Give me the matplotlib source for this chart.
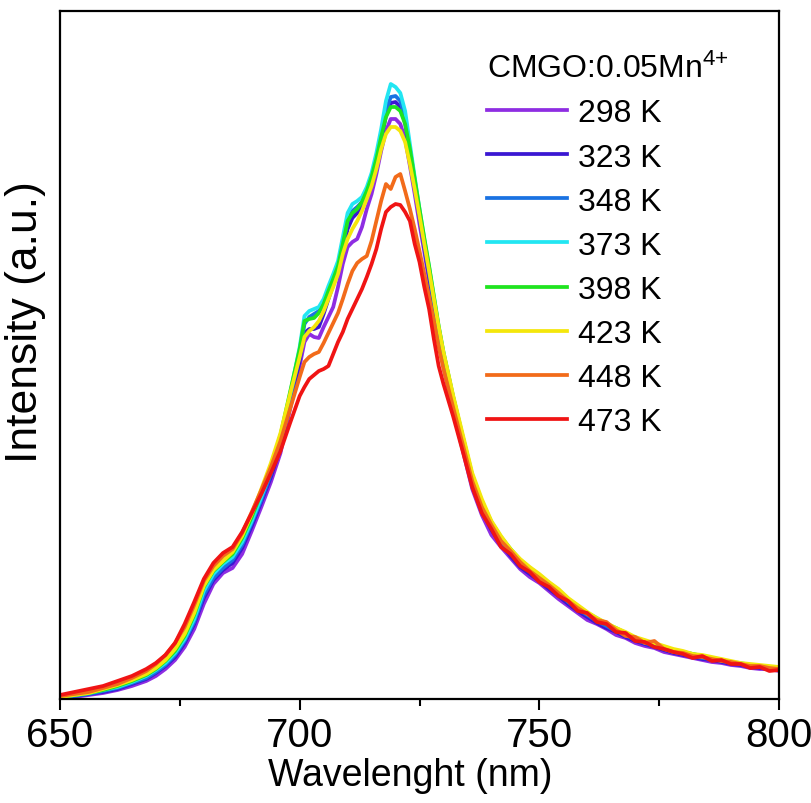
import numpy as np
import matplotlib
matplotlib.use('Agg')
import matplotlib.pyplot as plt
from matplotlib.ticker import MultipleLocator

# Emission spectra of CMGO:0.05Mn4+ at different temperatures
wavelength = [650, 653, 656, 659, 662, 665, 668, 670, 672, 674, 676, 678, 680, 682, 684, 686,
              688, 690, 692, 694, 696, 698, 700, 701, 702, 703, 704, 705, 706, 707, 708, 709,
              710, 711, 712, 713, 714, 715, 716, 717, 718, 719, 720, 721, 722, 723, 724, 725,
              726, 727, 728, 729, 730, 732, 734, 736, 738, 740, 742, 744, 746, 748, 750, 752,
              754, 756, 758, 760, 762, 764, 766, 768, 770, 772, 774, 776, 778, 780, 782, 784,
              786, 788, 790, 792, 794, 796, 798, 800]

i_298 = [1, 2, 4, 6, 9, 13, 18, 23, 30, 39, 52, 70, 95, 115, 126, 131,
         145, 168, 192, 217, 246, 290, 333, 357, 365, 362, 361, 372, 382, 392, 412, 435,
         452, 457, 460, 472, 490, 505, 525, 548, 568, 580, 580, 575, 560, 533, 505, 475,
         447, 418, 389, 360, 333, 288, 249, 210, 184, 164, 152, 141, 130, 122, 116, 108,
         100, 93, 86, 79, 75, 70, 64, 61, 56, 53, 51, 47, 45, 43, 41, 39,
         37, 36, 34, 33, 31, 30, 30, 28]
i_323 = [1, 3, 5, 7, 10, 15, 20, 26, 33, 42, 56, 75, 101, 119, 129, 136,
         151, 173, 197, 222, 252, 295, 338, 366, 370, 370, 372, 385, 400, 414, 428, 448,
         470, 481, 486, 492, 502, 516, 536, 560, 583, 596, 597, 592, 576, 546, 514, 482,
         452, 423, 393, 364, 338, 293, 254, 215, 189, 169, 155, 143, 132, 125, 118, 110,
         103, 95, 88, 82, 76, 71, 67, 62, 58, 55, 52, 49, 46, 44, 42, 40,
         39, 37, 35, 34, 32, 31, 30, 29]
i_348 = [2, 3, 5, 8, 11, 16, 21, 27, 34, 44, 58, 77, 104, 121, 131, 139,
         154, 176, 199, 225, 256, 300, 345, 375, 382, 385, 388, 396, 408, 420, 433, 455,
         478, 488, 492, 497, 507, 520, 540, 563, 588, 602, 603, 598, 582, 550, 518, 486,
         455, 427, 397, 368, 341, 297, 258, 219, 193, 172, 158, 146, 135, 128, 121, 113,
         106, 97, 90, 84, 78, 73, 68, 64, 59, 56, 53, 50, 47, 45, 43, 41,
         40, 38, 36, 35, 33, 32, 31, 30]
i_373 = [2, 4, 6, 9, 12, 17, 23, 29, 36, 46, 60, 80, 108, 125, 135, 142,
         157, 178, 202, 228, 260, 305, 352, 383, 388, 390, 392, 400, 413, 425, 438, 462,
         486, 495, 498, 502, 512, 526, 546, 570, 598, 615, 612, 606, 588, 555, 522, 490,
         460, 432, 402, 372, 346, 302, 262, 222, 196, 176, 161, 149, 139, 131, 124, 116,
         109, 99, 92, 86, 81, 75, 70, 66, 61, 58, 55, 52, 49, 47, 45, 43,
         41, 39, 37, 36, 34, 33, 32, 31]
i_398 = [2, 4, 6, 9, 13, 18, 24, 30, 38, 48, 63, 84, 112, 128, 137, 145,
         161, 182, 206, 232, 264, 307, 350, 378, 380, 381, 386, 395, 408, 420, 433, 455,
         478, 486, 490, 497, 508, 522, 540, 562, 582, 592, 592, 588, 575, 550, 520, 490,
         461, 433, 403, 373, 347, 303, 263, 224, 198, 177, 162, 150, 139, 131, 124, 116,
         109, 100, 93, 86, 80, 75, 71, 66, 61, 58, 55, 52, 49, 47, 45, 43,
         41, 39, 37, 35, 34, 33, 32, 31]
i_423 = [2, 4, 6, 10, 14, 19, 25, 31, 39, 50, 65, 86, 113, 129, 138, 147,
         163, 185, 210, 236, 266, 305, 342, 362, 368, 372, 378, 388, 400, 412, 425, 445,
         460, 470, 478, 488, 500, 513, 530, 550, 565, 572, 572, 568, 557, 535, 510, 483,
         455, 428, 400, 372, 347, 304, 265, 226, 200, 178, 163, 150, 140, 132, 125, 117,
         110, 101, 94, 87, 81, 76, 71, 67, 62, 59, 56, 53, 50, 48, 45, 44,
         42, 40, 38, 36, 35, 34, 33, 32]
i_448 = [3, 5, 7, 11, 15, 21, 28, 35, 44, 56, 72, 94, 118, 133, 143, 150,
         166, 187, 209, 232, 258, 290, 322, 337, 342, 345, 347, 356, 366, 376, 386, 400,
         415, 428, 436, 440, 443, 458, 478, 498, 515, 510, 522, 525, 508, 490, 470, 448,
         425, 402, 378, 352, 330, 292, 255, 218, 192, 174, 158, 148, 137, 128, 121, 114,
         106, 98, 91, 85, 79, 77, 69, 63, 62, 56, 58, 50, 47, 46, 43, 42,
         40, 38, 37, 35, 33, 33, 31, 30]
i_473 = [4, 7, 10, 13, 18, 23, 30, 36, 44, 56, 75, 97, 120, 136, 146, 152,
         167, 186, 205, 226, 248, 276, 303, 312, 320, 324, 328, 330, 333, 345, 357, 367,
         380, 390, 400, 410, 422, 435, 450, 470, 487, 492, 495, 494, 487, 478, 455, 437,
         412, 390, 360, 333, 315, 283, 248, 212, 186, 170, 152, 145, 133, 127, 117, 112,
         103, 98, 88, 86, 77, 75, 67, 66, 58, 57, 52, 50, 47, 45, 41, 43,
         38, 39, 35, 35, 31, 32, 28, 29]

temperaturas = ['298 K', '323 K', '348 K', '373 K', '398 K', '423 K', '448 K', '473 K']
espectros = [i_298, i_323, i_348, i_373, i_398, i_423, i_448, i_473]
cores = ['#8e2de2', '#3a17d2', '#1a72e2', '#22e6f2', '#1fe41f', '#f4e70c', '#f26b1a', '#f01414']

plt.rcParams['font.family'] = ['Liberation Sans', 'DejaVu Sans']
plt.rcParams['mathtext.fontset'] = 'custom'
plt.rcParams['mathtext.rm'] = 'Liberation Sans'
plt.rcParams['mathtext.it'] = 'Liberation Sans:italic'

fig = plt.figure(figsize=(8.12, 8.04), dpi=100)
ax = fig.add_axes([60 / 812, 104 / 804, 719 / 812, 688 / 804])

for y, cor, rotulo in zip(espectros, cores, temperaturas):
    ax.plot(wavelength, y, color=cor, lw=2.7, label=rotulo)

ax.set_xlim(650, 800)
ax.set_ylim(0, 688)
ax.xaxis.set_major_locator(MultipleLocator(50))
ax.xaxis.set_minor_locator(MultipleLocator(25))
ax.tick_params(axis='x', which='major', direction='out', length=8, width=1.5, pad=4, labelsize=29)
ax.tick_params(axis='x', which='minor', direction='out', length=5, width=1.5)
ax.set_yticks([])
for s in ax.spines.values():
    s.set_linewidth(1.6)

ax.set_xlabel('Wavelenght (nm)', fontsize=27)
ax.xaxis.set_label_coords(0.487, -0.084)
ax.set_ylabel('Intensity (a.u.)', fontsize=32)
ax.yaxis.set_label_coords(-0.02, 0.549)

leg = ax.legend(loc='upper left', bbox_to_anchor=(0.572, 0.962), frameon=False,
                title=r'CMGO:0.05Mn$^{\mathregular{4{+}}}$', title_fontsize=23, fontsize=23,
                handlelength=2.5, handletextpad=0.35, labelspacing=0.44,
                borderpad=0, alignment='left')
for linha in leg.get_lines():
    linha.set_linewidth(2.7)

plt.savefig('out.png', dpi=100)
